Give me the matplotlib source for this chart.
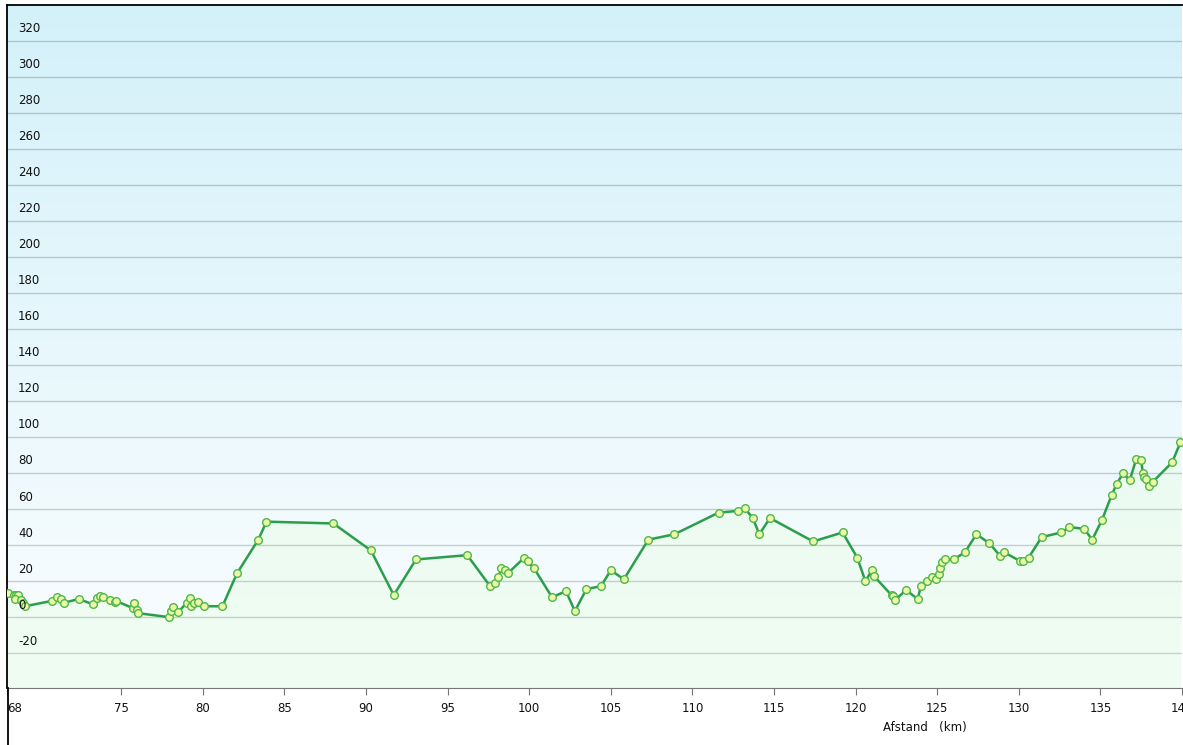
import numpy as np
import matplotlib
matplotlib.use("Agg")
import matplotlib.pyplot as plt
from matplotlib.lines import Line2D

# afstand (km) og hoejde (m) aflaest fra grafen
afstand = [68.05, 68.4, 68.55, 68.7, 68.5, 68.85, 69.0, 69.1, 70.76, 71.06, 71.3, 71.5,
           72.4, 73.3, 73.5, 73.7, 73.9, 74.3, 74.6, 74.7, 75.7, 75.8, 75.97, 76.0,
           77.9, 78.05, 78.2, 78.5, 79.0, 79.2, 79.3, 79.46, 79.7, 80.07, 81.2, 82.1,
           83.4, 83.9, 88.0, 90.3, 91.7, 93.06, 96.2, 97.6, 97.9, 98.1, 98.3, 98.5,
           98.7, 99.7, 99.9, 100.3, 101.4, 102.25, 102.8, 103.5, 104.4, 105.0, 105.8,
           107.3, 108.9, 111.6, 112.8, 113.2, 113.7, 114.1, 114.75, 117.4, 119.2, 120.1,
           120.6, 121.0, 121.1, 122.2, 122.3, 122.4, 123.1, 123.8, 124.0, 124.4, 124.7,
           124.9, 125.1, 125.2, 125.3, 125.5, 126.0, 126.7, 127.4, 128.2, 128.85, 129.1,
           130.1, 130.25, 130.6, 131.4, 132.6, 133.1, 134.0, 134.5, 135.1, 135.7, 136.0,
           136.4, 136.8, 137.2, 137.5, 137.6, 137.7, 137.8, 138.0, 138.2, 139.4, 139.9]
hoejde = [13.3, 12, 12.5, 12.5, 10, 9.5, 7.8, 6, 9, 11, 10, 8,
          10, 7, 10.5, 11.7, 11, 9.4, 8.3, 8.9, 5, 7.8, 3.9, 2.2,
          0, 3.3, 5.6, 2.8, 7.8, 10.5, 6, 7.8, 8.3, 6, 6, 24.4,
          43, 53, 52, 37, 12.2, 32, 34.4, 17.2, 18.9, 22, 27, 26,
          24.4, 33, 31, 27, 11, 14.4, 3.3, 15.5, 17.2, 26, 21,
          43, 46, 58, 59, 60.5, 55, 46, 55, 42, 47, 33,
          20, 26, 23, 12.2, 11.7, 9.4, 15, 10, 17, 20, 22,
          21, 24, 27, 30.5, 32, 32, 36, 46, 41, 34, 36,
          31, 31, 33, 44.4, 47, 50, 49, 43, 54, 68, 74,
          80, 76, 88, 87, 80, 78, 76.7, 73, 75, 86, 97]

x_ticks = [68, 75, 80, 85, 90, 95, 100, 105, 110, 115, 120, 125, 130, 135, 140]
y_ticks = list(range(-20, 321, 20))

W, H = 1183, 745
fig = plt.figure(figsize=(W / 100, H / 100), dpi=100)
fig.patch.set_facecolor("white")
ax = fig.add_axes([7 / W, 57 / H, 1175 / W, 683 / H])
ymin, ymax = -39.4, 340
ax.set_xlim(68, 140)
ax.set_ylim(ymin, ymax)

# baggrund med farveovergang (lyseblaa -> hvid)
grad = np.linspace(0, 1, 256).reshape(-1, 1, 1)
top = np.array([0.83, 0.945, 0.98])
bund = np.array([0.985, 0.995, 1.0])
img = top * (1 - grad) + bund * grad
ax.imshow(img, extent=[68, 140, ymin, ymax], aspect="auto", zorder=0)

g_top = np.array([0.66, 0.77, 0.80])
g_bund = np.array([0.78, 0.83, 0.81])
for v in y_ticks:
    f = (ymax - v) / (ymax - ymin)
    ax.axhline(v, color=g_top * (1 - f) + g_bund * f, lw=1, zorder=2.5)
    ax.annotate(str(v), xy=(0, v), xycoords=("axes fraction", "data"),
                xytext=(8, 4), textcoords="offset points", fontsize=8.5,
                color="#111111", ha="left", va="bottom", zorder=5)

ax.fill_between(afstand, hoejde, ymin, color=(0.92, 0.99, 0.93), alpha=0.7,
                zorder=2, lw=0)
ax.plot(afstand, hoejde, color="#2b9e4b", lw=1.8, zorder=3)
ax.plot(afstand, hoejde, ls="none", marker="o", ms=5.5, mfc="#ecf8a8",
        mec="#4fb848", mew=1, zorder=4)

ax.set_yticks([])
ax.set_xticks(x_ticks)
ax.set_xticklabels([str(t) for t in x_ticks], fontsize=8.5, color="#111111")
ax.get_xticklabels()[0].set_ha("left")
ax.tick_params(axis="x", direction="out", length=5, color="#777777", pad=5)
for s in ["top", "left"]:
    ax.spines[s].set_color("black")
    ax.spines[s].set_linewidth(1.3)
ax.spines["bottom"].set_color("#777777")
ax.spines["right"].set_visible(False)

# venstre linje fortsaetter ned til bunden
fig.add_artist(Line2D([7.5 / W, 7.5 / W], [0, 57 / H], color="black", lw=1.3))
fig.text(925 / W, 1 - 727 / H, "Afstand   (km)", fontsize=8.5, ha="center",
         va="center", color="#111111")

fig.savefig("out.png", dpi=100)
